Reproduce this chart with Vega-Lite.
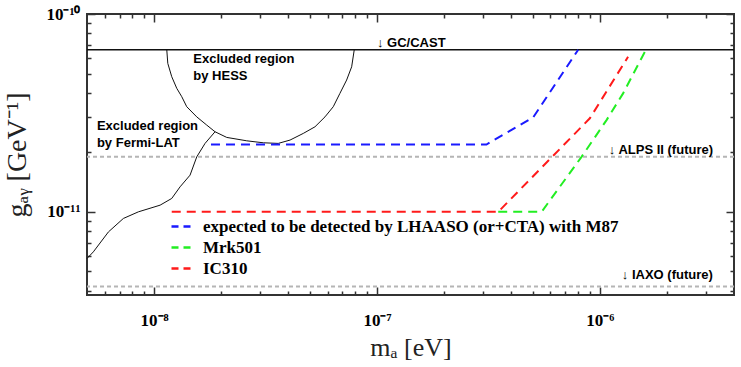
{
  "$schema": "https://vega.github.io/schema/vega-lite/v6.json",
  "width": 647,
  "height": 281,
  "autosize": {"type": "none"},
  "padding": {"left": 87, "top": 14, "right": 7, "bottom": 72},
  "background": "white",
  "config": {
    "view": {"stroke": "#333", "strokeWidth": 2},
    "axis": {"grid": false, "domain": false}
  },
  "datasets": {
    "curves": [
      {"s": "HESS", "i": 1, "x": 1.14e-8, "y": 6.6e-11},
      {"s": "HESS", "i": 2, "x": 1.152e-8, "y": 5.63e-11},
      {"s": "HESS", "i": 3, "x": 1.2e-8, "y": 4.82e-11},
      {"s": "HESS", "i": 4, "x": 1.264e-8, "y": 4.21e-11},
      {"s": "HESS", "i": 5, "x": 1.331e-8, "y": 3.82e-11},
      {"s": "HESS", "i": 6, "x": 1.401e-8, "y": 3.4e-11},
      {"s": "HESS", "i": 7, "x": 1.554e-8, "y": 3.02e-11},
      {"s": "HESS", "i": 8, "x": 1.723e-8, "y": 2.745e-11},
      {"s": "HESS", "i": 9, "x": 1.877e-8, "y": 2.54e-11},
      {"s": "HESS", "i": 10, "x": 2.118e-8, "y": 2.378e-11},
      {"s": "HESS", "i": 11, "x": 2.604e-8, "y": 2.286e-11},
      {"s": "HESS", "i": 12, "x": 3.09e-8, "y": 2.234e-11},
      {"s": "HESS", "i": 13, "x": 3.607e-8, "y": 2.218e-11},
      {"s": "HESS", "i": 14, "x": 4.074e-8, "y": 2.306e-11},
      {"s": "HESS", "i": 15, "x": 4.672e-8, "y": 2.492e-11},
      {"s": "HESS", "i": 16, "x": 5.272e-8, "y": 2.691e-11},
      {"s": "HESS", "i": 17, "x": 5.845e-8, "y": 3.02e-11},
      {"s": "HESS", "i": 18, "x": 6.368e-8, "y": 3.4e-11},
      {"s": "HESS", "i": 19, "x": 6.82e-8, "y": 3.97e-11},
      {"s": "HESS", "i": 20, "x": 7.31e-8, "y": 4.637e-11},
      {"s": "HESS", "i": 21, "x": 7.7e-8, "y": 5.41e-11},
      {"s": "HESS", "i": 22, "x": 7.91e-8, "y": 6.6e-11},
      {"s": "Fermi", "i": 1, "x": 5.0e-9, "y": 5.81e-12},
      {"s": "Fermi", "i": 2, "x": 5.34e-9, "y": 6.28e-12},
      {"s": "Fermi", "i": 3, "x": 6.24e-9, "y": 7.92e-12},
      {"s": "Fermi", "i": 4, "x": 7.28e-9, "y": 9.26e-12},
      {"s": "Fermi", "i": 5, "x": 8.5e-9, "y": 1.0e-11},
      {"s": "Fermi", "i": 6, "x": 1.064e-8, "y": 1.081e-11},
      {"s": "Fermi", "i": 7, "x": 1.2e-8, "y": 1.169e-11},
      {"s": "Fermi", "i": 8, "x": 1.308e-8, "y": 1.338e-11},
      {"s": "Fermi", "i": 9, "x": 1.45e-8, "y": 1.533e-11},
      {"s": "Fermi", "i": 10, "x": 1.554e-8, "y": 1.897e-11},
      {"s": "Fermi", "i": 11, "x": 1.693e-8, "y": 2.218e-11},
      {"s": "Fermi", "i": 12, "x": 1.877e-8, "y": 2.54e-11}
    ],
    "sens": [
      {"series": "expected to be detected by LHAASO (or+CTA) with M87", "x": 1.8e-8, "y": 2.19e-11},
      {"series": "expected to be detected by LHAASO (or+CTA) with M87", "x": 3.1e-7, "y": 2.19e-11},
      {"series": "expected to be detected by LHAASO (or+CTA) with M87", "x": 5.02e-7, "y": 3.0e-11},
      {"series": "expected to be detected by LHAASO (or+CTA) with M87", "x": 8.0e-7, "y": 6.6e-11},
      {"series": "Mrk501", "x": 3.5e-7, "y": 1.0e-11},
      {"series": "Mrk501", "x": 5.48e-7, "y": 1.0e-11},
      {"series": "Mrk501", "x": 8.28e-7, "y": 1.897e-11},
      {"series": "Mrk501", "x": 1.072e-6, "y": 2.909e-11},
      {"series": "Mrk501", "x": 1.272e-6, "y": 3.97e-11},
      {"series": "Mrk501", "x": 1.61e-6, "y": 6.6e-11},
      {"series": "IC310", "x": 1.2e-8, "y": 1.0e-11},
      {"series": "IC310", "x": 3.5e-7, "y": 1.0e-11},
      {"series": "IC310", "x": 9.02e-7, "y": 2.97e-11},
      {"series": "IC310", "x": 1.339e-6, "y": 6.08e-11}
    ],
    "cast": [
      {"x": 5.0e-9, "y": 6.6e-11},
      {"x": 4.0e-6, "y": 6.6e-11}
    ],
    "future": [
      {"name": "ALPS II", "y": 1.9e-11},
      {"name": "IAXO", "y": 4.2e-12}
    ],
    "notes": [
      {"t": "Excluded region", "x": 1.5e-8, "y": 5.65e-11},
      {"t": "by HESS", "x": 1.5e-8, "y": 4.64e-11},
      {"t": "Excluded region", "x": 5.54e-9, "y": 2.59e-11},
      {"t": "by Fermi-LAT", "x": 5.54e-9, "y": 2.13e-11},
      {"t": "↓ GC/CAST", "x": 1.0e-7, "y": 6.83e-11},
      {"t": "↓ ALPS II (future)", "x": 1.097e-6, "y": 1.97e-11},
      {"t": "↓ IAXO (future)", "x": 1.255e-6, "y": 4.6e-12}
    ]
  },
  "layer": [
    {
      "data": {"name": "curves"},
      "mark": {"type": "line", "color": "#111", "strokeWidth": 1},
      "encoding": {
        "x": {
          "field": "x", "type": "quantitative",
          "scale": {"type": "log", "domain": [5e-9, 4e-6], "nice": false},
          "axis": {
            "orient": "bottom",
            "values": [1e-8, 1e-7, 1e-6],
            "labelExpr": "round(log(datum.value)/LN10) == -8 ? '10⁻⁸' : round(log(datum.value)/LN10) == -7 ? '10⁻⁷' : '10⁻⁶'",
            "tickSize": 0, "tickColor": "transparent",
            "labelOverlap": false, "labelFlush": false,
            "labelFont": "Liberation Serif", "labelFontWeight": "bold", "labelFontSize": 17, "labelColor": "#000",
            "labelPadding": 17,
            "title": "mₐ [eV]", "titleFont": "Liberation Serif", "titleFontWeight": "normal", "titleFontSize": 26, "titleColor": "#222", "titlePadding": 6
          }
        },
        "y": {
          "field": "y", "type": "quantitative",
          "scale": {"type": "log", "domain": [3.8e-12, 1e-10], "nice": false},
          "axis": {
            "orient": "left",
            "values": [1e-11, 1e-10],
            "labelExpr": "round(log(datum.value)/LN10) == -10 ? '10⁻¹⁰' : '10⁻¹¹'",
            "tickSize": 0, "tickColor": "transparent",
            "labelOverlap": false, "labelFlush": false,
            "labelFont": "Liberation Serif", "labelFontWeight": "bold", "labelFontSize": 17, "labelColor": "#000",
            "labelPadding": 7,
            "title": "gₐᵧ [GeV⁻¹]", "titleFont": "Liberation Serif", "titleFontWeight": "normal", "titleFontSize": 28, "titleColor": "#222", "titlePadding": 14
          }
        },
        "detail": {"field": "s"},
        "order": {"field": "i", "type": "quantitative"}
      }
    },
    {
      "data": {"name": "cast"},
      "mark": {"type": "line", "strokeOpacity": 0},
      "encoding": {
        "x": {
          "field": "x", "type": "quantitative",
          "axis": {"orient": "bottom", "values": [1e-8, 1e-7, 1e-6], "labels": false, "title": null, "tickSize": 8, "offset": -8, "tickColor": "#333", "tickWidth": 1.5}
        },
        "y": {
          "field": "y", "type": "quantitative",
          "axis": {"orient": "left", "values": [1e-11, 1e-10], "labels": false, "title": null, "tickSize": 8, "offset": -8, "tickColor": "#333", "tickWidth": 1.5}
        }
      }
    },
    {
      "data": {"name": "cast"},
      "mark": {"type": "line", "color": "#111", "strokeWidth": 1.5},
      "encoding": {
        "x": {
          "field": "x", "type": "quantitative",
          "axis": {"orient": "top", "values": [1e-8, 1e-7, 1e-6], "labels": false, "title": null, "tickSize": 8, "offset": -8, "tickColor": "#333", "tickWidth": 1.5}
        },
        "y": {
          "field": "y", "type": "quantitative",
          "axis": {"orient": "right", "values": [1e-11, 1e-10], "labels": false, "title": null, "tickSize": 8, "offset": -8, "tickColor": "#333", "tickWidth": 1.5}
        }
      }
    },
    {
      "data": {"name": "future"},
      "mark": {"type": "rule", "color": "#b5b5b5", "strokeWidth": 2, "strokeDash": [4, 3]},
      "encoding": {
        "y": {"field": "y", "type": "quantitative", "axis": null}
      }
    },
    {
      "data": {"name": "sens"},
      "mark": {"type": "line", "strokeWidth": 2, "strokeDash": [9, 6]},
      "encoding": {
        "x": {
          "field": "x", "type": "quantitative",
          "axis": {
            "orient": "top",
            "values": [6e-9, 7e-9, 8e-9, 9e-9, 2e-8, 3e-8, 4e-8, 5e-8, 6e-8, 7e-8, 8e-8, 9e-8, 2e-7, 3e-7, 4e-7, 5e-7, 6e-7, 7e-7, 8e-7, 9e-7, 2e-6, 3e-6],
            "labels": false, "title": null, "tickSize": 4, "offset": -4, "tickColor": "#333", "tickWidth": 1.5
          }
        },
        "y": {
          "field": "y", "type": "quantitative",
          "axis": {
            "orient": "right",
            "values": [4e-12, 5e-12, 6e-12, 7e-12, 8e-12, 9e-12, 2e-11, 3e-11, 4e-11, 5e-11, 6e-11, 7e-11, 8e-11, 9e-11],
            "labels": false, "title": null, "tickSize": 4, "offset": -4, "tickColor": "#333", "tickWidth": 1.5
          }
        },
        "color": {
          "field": "series", "type": "nominal",
          "scale": {"domain": ["expected to be detected by LHAASO (or+CTA) with M87", "Mrk501", "IC310"], "range": ["#1a1aff", "#22ee22", "#ff1a1a"]},
          "legend": {
            "orient": "none", "legendX": 83, "legendY": 201, "title": null,
            "symbolType": "stroke", "symbolStrokeWidth": 2.5, "symbolDash": [7, 5], "symbolSize": 400,
            "labelFont": "Liberation Serif", "labelFontWeight": "bold", "labelFontSize": 17, "labelColor": "#000",
            "labelLimit": 0, "labelOffset": 10, "rowPadding": 1, "padding": 0
          }
        }
      }
    },
    {
      "data": {"name": "notes"},
      "mark": {"type": "text", "align": "left", "baseline": "alphabetic", "font": "Liberation Sans", "fontWeight": "bold", "fontSize": 13, "color": "#000"},
      "encoding": {
        "x": {
          "field": "x", "type": "quantitative",
          "axis": {
            "orient": "bottom",
            "values": [6e-9, 7e-9, 8e-9, 9e-9, 2e-8, 3e-8, 4e-8, 5e-8, 6e-8, 7e-8, 8e-8, 9e-8, 2e-7, 3e-7, 4e-7, 5e-7, 6e-7, 7e-7, 8e-7, 9e-7, 2e-6, 3e-6],
            "labels": false, "title": null, "tickSize": 4, "offset": -4, "tickColor": "#333", "tickWidth": 1.5
          }
        },
        "y": {
          "field": "y", "type": "quantitative",
          "axis": {
            "orient": "left",
            "values": [4e-12, 5e-12, 6e-12, 7e-12, 8e-12, 9e-12, 2e-11, 3e-11, 4e-11, 5e-11, 6e-11, 7e-11, 8e-11, 9e-11],
            "labels": false, "title": null, "tickSize": 4, "offset": -4, "tickColor": "#333", "tickWidth": 1.5
          }
        },
        "text": {"field": "t"}
      }
    }
  ],
  "resolve": {"axis": {"x": "independent", "y": "independent"}}
}
